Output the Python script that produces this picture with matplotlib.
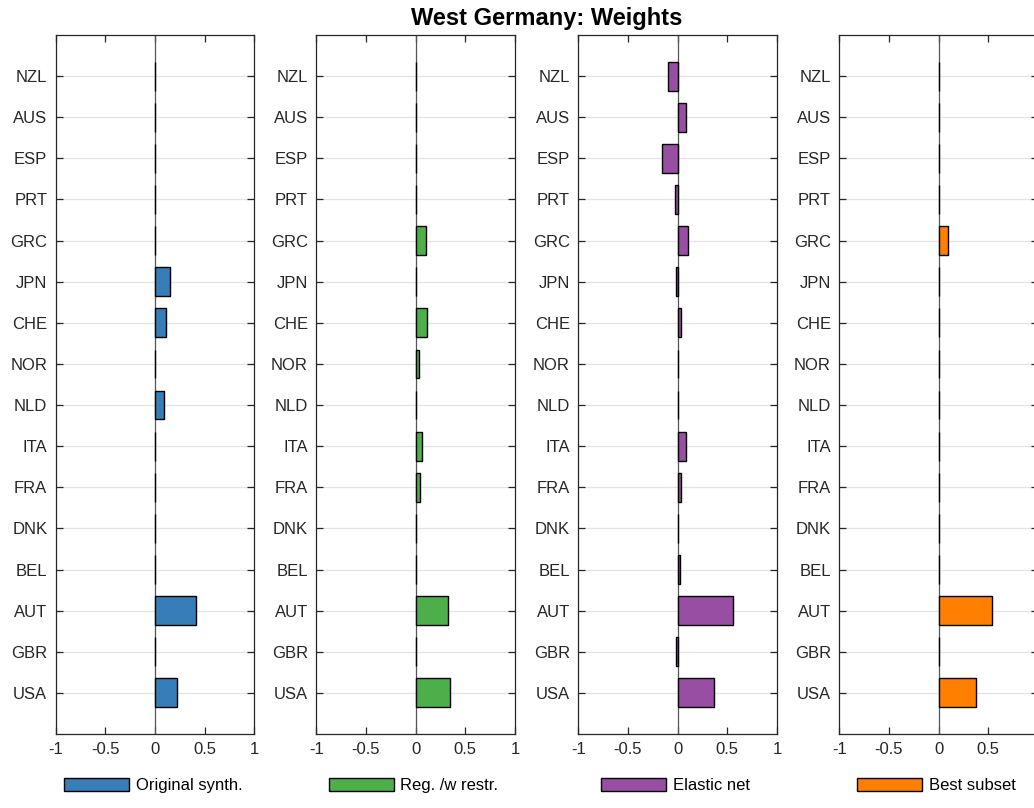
import numpy as np
import matplotlib
matplotlib.use("Agg")
import matplotlib.pyplot as plt

# Data
countries = ["USA", "GBR", "AUT", "BEL", "DNK", "FRA", "ITA", "NLD",
             "NOR", "CHE", "JPN", "GRC", "PRT", "ESP", "AUS", "NZL"]

orig_synth = [0.218, 0.0, 0.415, 0.0, 0.0, 0.0, 0.0, 0.09,
              0.0, 0.115, 0.155, 0.0, 0.0, 0.0, 0.0, 0.0]
reg_restr = [0.345, 0.0, 0.325, 0.0, 0.0, 0.04, 0.06, 0.0,
             0.03, 0.11, 0.0, 0.10, 0.0, 0.0, 0.0, 0.0]
elastic_net = [0.362, -0.013, 0.553, 0.02, 0.0, 0.03, 0.08, 0.0,
               0.0, 0.03, -0.017, 0.105, -0.025, -0.155, 0.08, -0.10]
best_subset = [0.379, 0.0, 0.54, 0.0, 0.0, 0.0, 0.0, 0.0,
               0.0, 0.0, 0.0, 0.097, 0.0, 0.0, 0.0, 0.0]

series = [orig_synth, reg_restr, elastic_net, best_subset]
labels = ["Original synth.", "Reg. /w restr.", "Elastic net", "Best subset"]
colors = ["#377eb8", "#4daf4a", "#984ea3", "#ff7f00"]
xticks = [-1, -0.5, 0, 0.5, 1]
xticklabels = ["-1", "-0.5", "0", "0.5", "1"]

plt.rcParams["font.family"] = ["Liberation Sans", "DejaVu Sans"]
plt.rcParams["axes.linewidth"] = 0.9

W, H = 1034, 808
fig = plt.figure(figsize=(W / 100, H / 100), dpi=100)

lefts = [55.7, 316.3, 578.3, 839.3]
ax_w = 198.7
top, bottom = 35, 734
ypos = np.arange(1, len(countries) + 1)

for i in range(4):
    ax = fig.add_axes([lefts[i] / W, 1 - bottom / H, ax_w / W, (bottom - top) / H])
    ax.set_axisbelow(True)
    ax.grid(axis="y", color="#e3e3e3", linewidth=0.9)
    ax.axvline(0, color="#555555", linewidth=0.9, zorder=1)
    ax.barh(ypos, series[i], height=0.7, color=colors[i], edgecolor="black",
            linewidth=1.0, label=labels[i], zorder=2)
    ax.set_xlim(-1, 1)
    ax.set_ylim(0, len(countries) + 1)
    ax.set_xticks(xticks)
    # last panel runs past the figure edge, so its "1" is not visible
    if i == 3:
        ax.set_xticklabels(xticklabels[:-1] + [""])
    else:
        ax.set_xticklabels(xticklabels)
    ax.set_yticks(ypos)
    ax.set_yticklabels(countries)
    ax.tick_params(direction="in", length=5, width=0.9, colors="#262626",
                   labelsize=12, top=True, right=True, pad=6)
    for sp in ax.spines.values():
        sp.set_color("#262626")
    ax.legend(loc="center", bbox_to_anchor=(0.49, -0.074), frameon=False,
              fontsize=12, handlelength=3.9, handleheight=0.85,
              handletextpad=0.4, borderaxespad=0)

fig.text(547 / W, 1 - 18 / H, "West Germany: Weights", ha="center", va="center",
         fontsize=17, fontweight="bold")

fig.savefig("out.png", dpi=100)
